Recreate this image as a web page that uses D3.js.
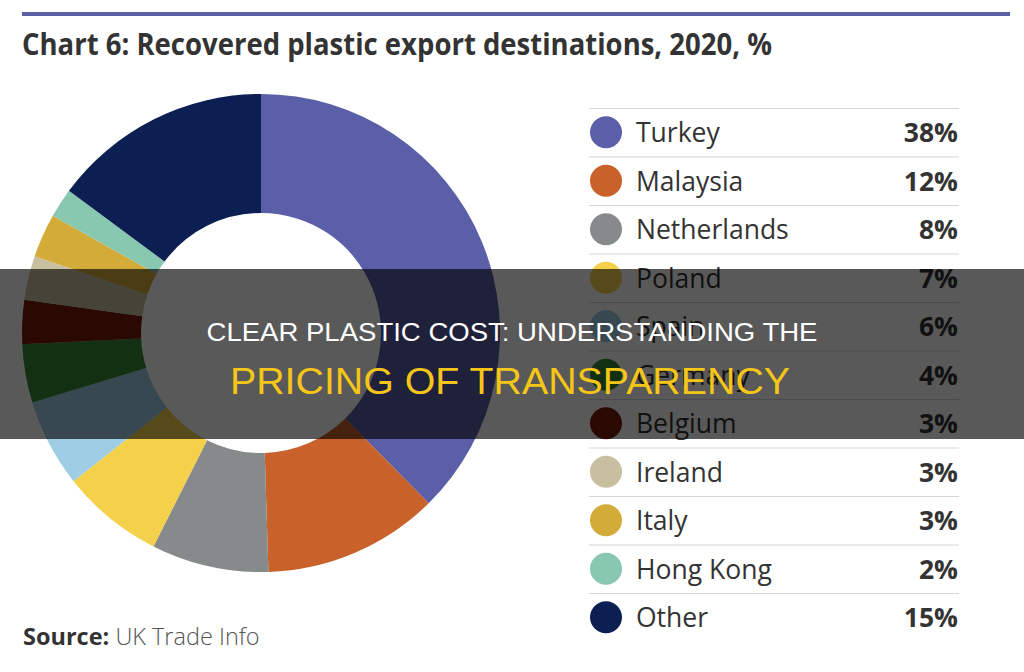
<!DOCTYPE html>
<html>
<head>
<meta charset="utf-8">
<script src="https://cdn.jsdelivr.net/npm/d3@7"></script>
<style>
  body { margin: 0; background: #fff; }
  svg { display: block; }
</style>
</head>
<body>
<svg id="chart" width="1024" height="672"></svg>
<script>
// data
var countries = ["Turkey", "Malaysia", "Netherlands", "Poland", "Spain", "Germany",
                 "Belgium", "Ireland", "Italy", "Hong Kong", "Other"];
var shares = [38, 12, 8, 7, 6, 4, 3, 3, 3, 2, 15];
var colours = ["#5a5fa8", "#c8622a", "#868a8a", "#f5d04a", "#9fcde4", "#3a8a36",
               "#7a1a0a", "#c8bfa0", "#d3ab38", "#88c8b0", "#0c1f52"];

var svg = d3.select("#chart");

// colour scale
var colour = d3.scaleOrdinal()
    .domain(countries)
    .range(colours);

// top rule + title
svg.append("rect")
    .attr("x", 22).attr("y", 12)
    .attr("width", 988).attr("height", 4)
    .attr("fill", "#5a5fa8");

svg.append("text")
    .attr("x", 22).attr("y", 55)
    .attr("font-family", "'Open Sans', sans-serif")
    .attr("font-weight", 700)
    .attr("font-size", 30)
    .attr("fill", "#333")
    .attr("textLength", 750)
    .attr("lengthAdjust", "spacingAndGlyphs")
    .text("Chart 6: Recovered plastic export destinations, 2020, %");

// donut
var pie = d3.pie()
    .sort(null)
    .value(function(d){ return d.value; });

var arc = d3.arc()
    .innerRadius(120)
    .outerRadius(239);

var rows = countries.map(function(c, i){ return {name: c, value: shares[i]}; });

svg.append("g")
    .attr("transform", "translate(261,333)")
    .selectAll("path")
    .data(pie(rows))
    .enter()
    .append("path")
    .attr("d", arc)
    .attr("fill", function(d){ return colour(d.data.name); });

// legend
var y = d3.scaleBand()
    .domain(countries)
    .range([108, 108 + 48.5 * countries.length]);

var legend = svg.append("g");

legend.selectAll("line")
    .data(countries)
    .enter()
    .append("line")
    .attr("x1", 589).attr("x2", 959)
    .attr("y1", function(d){ return y(d) + 0.5; })
    .attr("y2", function(d){ return y(d) + 0.5; })
    .attr("stroke", "#d6d6d6")
    .attr("stroke-width", 1.2);

var item = legend.selectAll("g.item")
    .data(rows)
    .enter()
    .append("g")
    .attr("class", "item")
    .attr("transform", function(d){ return "translate(0," + (y(d.name) + y.bandwidth() / 2) + ")"; });

item.append("circle")
    .attr("cx", 606)
    .attr("r", 16)
    .attr("fill", function(d){ return colour(d.name); });

item.append("text")
    .attr("x", 636).attr("y", 10)
    .attr("font-family", "'Open Sans', sans-serif")
    .attr("font-size", 26.5)
    .attr("fill", "#333")
    .text(function(d){ return d.name; });

item.append("text")
    .attr("x", 958).attr("y", 10)
    .attr("text-anchor", "end")
    .attr("font-family", "'Open Sans', sans-serif")
    .attr("font-weight", 700)
    .attr("font-size", 26.5)
    .attr("fill", "#333")
    .text(function(d){ return d.value + "%"; });

// source
var src = svg.append("text")
    .attr("x", 23).attr("y", 645)
    .attr("font-family", "'Open Sans', sans-serif")
    .attr("font-size", 23.5)
    .attr("fill", "#333");
src.append("tspan").attr("font-weight", 700).text("Source:");
src.append("tspan").attr("font-weight", 300).attr("fill", "#555").text(" UK Trade Info");

// overlay band with headline
svg.append("rect")
    .attr("x", 0).attr("y", 269)
    .attr("width", 1024).attr("height", 170)
    .attr("fill", "rgba(0,0,0,0.65)");

svg.append("text")
    .attr("x", 512).attr("y", 341)
    .attr("text-anchor", "middle")
    .attr("font-family", "'Liberation Sans', Arial, sans-serif")
    .attr("font-size", 25.5)
    .attr("fill", "#fff")
    .attr("textLength", 611)
    .attr("lengthAdjust", "spacingAndGlyphs")
    .text("CLEAR PLASTIC COST: UNDERSTANDING THE");

svg.append("text")
    .attr("x", 510).attr("y", 394)
    .attr("text-anchor", "middle")
    .attr("font-family", "'Liberation Sans', Arial, sans-serif")
    .attr("font-size", 37)
    .attr("fill", "#f5c518")
    .attr("textLength", 560)
    .attr("lengthAdjust", "spacingAndGlyphs")
    .text("PRICING OF TRANSPARENCY");
</script>
</body>
</html>
